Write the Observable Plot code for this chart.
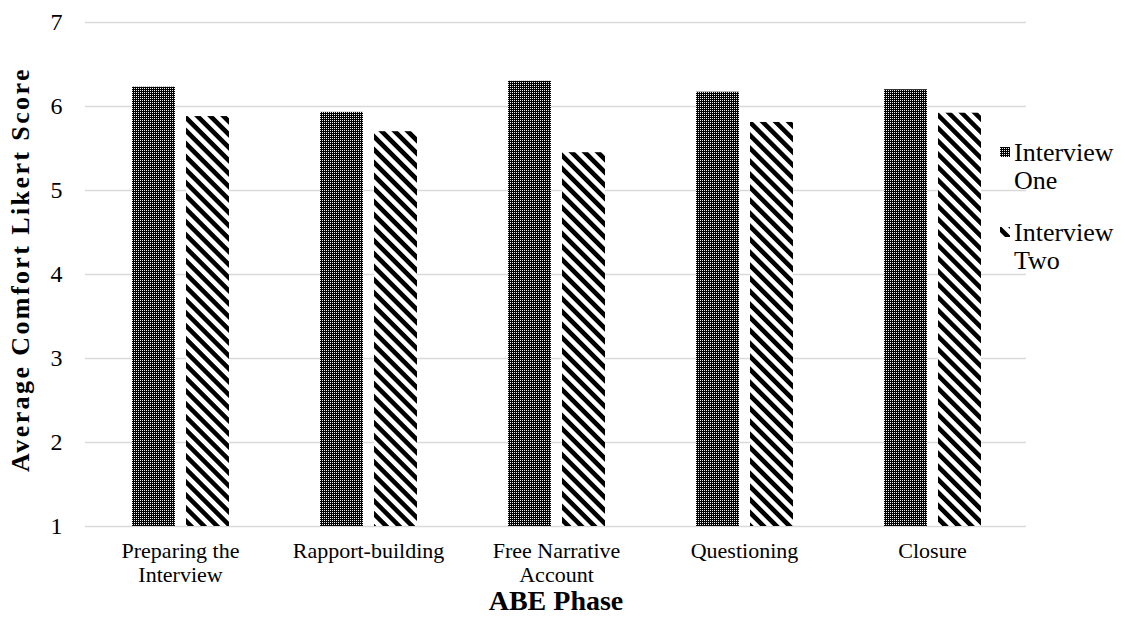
<!DOCTYPE html>
<html>
<head>
<meta charset="utf-8">
<script src="https://cdn.jsdelivr.net/npm/d3@7"></script>
<script src="https://cdn.jsdelivr.net/npm/@observablehq/plot@0.6"></script>
<style>
  html, body { margin: 0; padding: 0; background: #fff; }
  #chart svg { display: block; }
</style>
</head>
<body>
<div id="chart"></div>
<script>
// ABE interview phases and average comfort scores per interview
const phases = ["Preparing the Interview", "Rapport-building", "Free Narrative Account", "Questioning", "Closure"];
const phaseLabels = ["Preparing the\nInterview", "Rapport-building", "Free Narrative\nAccount", "Questioning", "Closure"];
const seriesNames = ["Interview One", "Interview Two"];
const interviewOne = [6.23, 5.93, 6.30, 6.17, 6.20];
const interviewTwo = [5.88, 5.70, 5.45, 5.81, 5.92];
const yTicks = [1, 2, 3, 4, 5, 6, 7];
const yTitle = "Average Comfort Likert Score";
const xTitle = "ABE Phase";

const rowsOne = phases.map((p, i) => ({phase: p, value: interviewOne[i]}));
const rowsTwo = phases.map((p, i) => ({phase: p, value: interviewTwo[i]}));
const labelOf = new Map(phases.map((p, i) => [p, phaseLabels[i]]));

const font = "'Liberation Serif', 'Times New Roman', serif";
const tickFont = 22;
const legendFont = 26;

const chart = Plot.plot({
  width: 1135,
  height: 636,
  marginLeft: 85,
  marginRight: 109,
  marginTop: 22,
  marginBottom: 110,
  style: {fontFamily: font, fontSize: `${tickFont}px`, color: "#000", background: "#fff"},
  x: {domain: phases, padding: 0},
  y: {domain: [1, 7], ticks: yTicks},
  marks: [
    Plot.gridY(yTicks.slice(1), {stroke: "#d9d9d9", strokeOpacity: 1, strokeWidth: 1.5}),
    Plot.ruleY([1], {stroke: "#d9d9d9", strokeWidth: 1.5}),
    Plot.barY(rowsOne, {x: "phase", y1: () => 1, y2: "value", fill: "url(#pat-one)", insetLeft: 46, insetRight: 99}),
    Plot.barY(rowsTwo, {x: "phase", y1: () => 1, y2: "value", fill: "url(#pat-two)", insetLeft: 100, insetRight: 45}),
    Plot.axisY({ticks: yTicks, tickSize: 0, tickPadding: 23, fontSize: 24, label: null,
      tickFormat: d3.format("d")}),
    Plot.axisX({tickSize: 0, tickPadding: 14, fontSize: tickFont, lineHeight: 1.1, label: null,
      tickFormat: d => labelOf.get(d)}),
    Plot.text([yTitle], {frameAnchor: "left", textAnchor: "middle", dx: -65, dy: -5,
      rotate: -90, fontWeight: "bold", fontSize: 26}),
    Plot.text([xTitle], {frameAnchor: "bottom", lineAnchor: "middle", dy: 75, fontWeight: "bold", fontSize: 28})
  ]
});

document.getElementById("chart").appendChild(chart);

const svg = d3.select(chart);

// The vertical axis title is set with wide letter spacing
svg.selectAll("text").filter(function() { return this.textContent === yTitle; })
  .attr("letter-spacing", 2.4);

// Fill patterns: dotted grid for Interview One, wide downward diagonal for Interview Two
const defs = svg.insert("defs", ":first-child");
const p1 = defs.append("pattern").attr("id", "pat-one").attr("patternUnits", "userSpaceOnUse")
  .attr("width", 4).attr("height", 4);
p1.append("rect").attr("width", 4).attr("height", 4).attr("fill", "#000");
p1.append("rect").attr("x", 0).attr("y", 0).attr("width", 1).attr("height", 1).attr("fill", "#fff");
p1.append("rect").attr("x", 2).attr("y", 2).attr("width", 1).attr("height", 1).attr("fill", "#fff");
p1.append("rect").attr("x", 2).attr("y", 0).attr("width", 1).attr("height", 1).attr("fill", "#ddd");
p1.append("rect").attr("x", 0).attr("y", 2).attr("width", 1).attr("height", 1).attr("fill", "#ddd");
const p2 = defs.append("pattern").attr("id", "pat-two").attr("patternUnits", "userSpaceOnUse")
  .attr("width", 9.2).attr("height", 9.2).attr("patternTransform", "rotate(-45)");
p2.append("rect").attr("width", 9.2).attr("height", 9.2).attr("fill", "#fff");
p2.append("rect").attr("width", 4.6).attr("height", 9.2).attr("fill", "#000");

// Legend on the right
const legend = svg.append("g").attr("font-family", font).attr("font-size", legendFont).attr("text-anchor", "start");
const fills = ["url(#pat-one)", "url(#pat-two)"];
seriesNames.forEach((name, i) => {
  const g = legend.append("g").attr("transform", `translate(1000, ${152 + i * 80})`);
  g.append("rect").attr("x", 0).attr("y", -5).attr("width", 10).attr("height", 10).attr("fill", fills[i]);
  const words = name.split(" ");
  const t = g.append("text").attr("x", 14).attr("y", 0).attr("dominant-baseline", "central");
  words.forEach((w, j) => t.append("tspan").attr("x", 14).attr("dy", j === 0 ? 0 : 28).text(w));
});
</script>
</body>
</html>
